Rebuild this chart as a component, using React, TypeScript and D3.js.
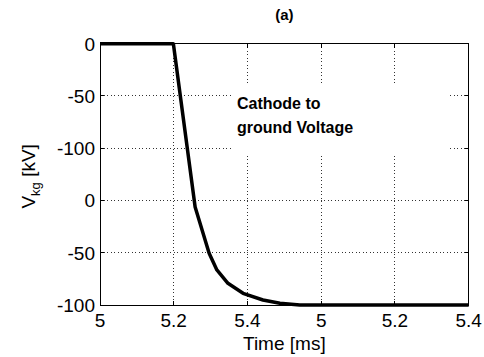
import React from "react";
import * as d3 from "d3";

const timeMs = [5.0, 5.199, 5.258, 5.296, 5.317, 5.347, 5.388, 5.442, 5.488, 5.542, 6.0];
const vkg = [0, 0, -156.2, -200.5, -216.5, -229.2, -238.8, -245.2, -248.4, -250, -250];

const xTickValues = [5.0, 5.2, 5.4, 5.6, 5.8, 6.0];
const xTickLabels = ["5", "5.2", "5.4", "5", "5.2", "5.4"];
const yTickValues = [0, -50, -100, -150, -200, -250];
const yTickLabels = ["0", "-50", "-100", "0", "-50", "-100"];

const titleText = "(a)";
const xLabel = "Time [ms]";
const annotationLines = ["Cathode to", "ground Voltage"];

const W = 484;
const H = 357;
const M = { left: 100, top: 43.7, right: 484 - 468.7, bottom: 357 - 305 };
const FONT = "Arial, 'Liberation Sans', Helvetica, sans-serif";

export default function App() {
  const x = d3.scaleLinear().domain([5, 6]).range([M.left, W - M.right]);
  const y = d3.scaleLinear().domain([-250, 0]).range([H - M.bottom, M.top]);
  const pts = timeMs.map((t, i) => [t, vkg[i]] as [number, number]);
  const line = d3
    .line<[number, number]>()
    .x((d) => x(d[0]))
    .y((d) => y(d[1]))(pts) as string;

  const x0 = x.range()[0];
  const x1 = x.range()[1];
  const y0 = y.range()[1];
  const y1 = y.range()[0];
  const tl = 4;

  const box = { x: 232, y: 83, w: 217, h: 71 };

  return (
    <svg
      width={W}
      height={H}
      style={{ position: "absolute", left: 0, top: 0, background: "#fff" }}
      fontFamily={FONT}
    >
      <rect x={0} y={0} width={W} height={H} fill="#fff" />
      {/* grid */}
      <g stroke="#333" strokeWidth={1} strokeDasharray="1,2.5" shapeRendering="crispEdges">
        {xTickValues.slice(1, -1).map((v, i) => (
          <line key={"gx" + i} x1={x(v)} x2={x(v)} y1={y0} y2={y1} />
        ))}
        {yTickValues.slice(1, -1).map((v, i) => (
          <line key={"gy" + i} x1={x0} x2={x1} y1={y(v)} y2={y(v)} />
        ))}
      </g>
      {/* annotation background */}
      <rect x={box.x} y={box.y} width={box.w} height={box.h} fill="#fff" />
      <g fontSize={16} fontWeight="bold" fill="#000">
        {annotationLines.map((s, i) => (
          <text key={i} x={237} y={109 + i * 24}>
            {s}
          </text>
        ))}
      </g>
      {/* data line */}
      <path d={line} fill="none" stroke="#000" strokeWidth={3.5} strokeLinejoin="round" />
      {/* box & ticks */}
      <g stroke="#000" strokeWidth={1} shapeRendering="crispEdges">
        <rect x={x0} y={y0} width={x1 - x0} height={y1 - y0} fill="none" />
        {xTickValues.map((v, i) => (
          <g key={"tx" + i}>
            <line x1={x(v)} x2={x(v)} y1={y1} y2={y1 - tl} />
            <line x1={x(v)} x2={x(v)} y1={y0} y2={y0 + tl} />
          </g>
        ))}
        {yTickValues.map((v, i) => (
          <g key={"ty" + i}>
            <line x1={x0} x2={x0 + tl} y1={y(v)} y2={y(v)} />
            <line x1={x1} x2={x1 - tl} y1={y(v)} y2={y(v)} />
          </g>
        ))}
      </g>
      {/* tick labels */}
      <g fontSize={19} fill="#000">
        {xTickValues.map((v, i) => (
          <text key={"lx" + i} x={x(v)} y={y1 + 22} textAnchor="middle">
            {xTickLabels[i]}
          </text>
        ))}
        {yTickValues.map((v, i) => (
          <text key={"ly" + i} x={x0 - 5} y={y(v) + 7} textAnchor="end">
            {yTickLabels[i]}
          </text>
        ))}
      </g>
      <text x={(x0 + x1) / 2} y={350} textAnchor="middle" fontSize={19} fill="#000">
        {xLabel}
      </text>
      <text
        transform={`translate(35, ${(y0 + y1) / 2 + 2}) rotate(-90)`}
        textAnchor="middle"
        fontSize={19}
        fill="#000"
      >
        V
        <tspan fontSize={13} dy={5}>kg</tspan>
        <tspan dy={-5}> [kV]</tspan>
      </text>
      <text x={(x0 + x1) / 2} y={20} textAnchor="middle" fontSize={15} fontWeight="bold" fill="#000">
        {titleText}
      </text>
    </svg>
  );
}
